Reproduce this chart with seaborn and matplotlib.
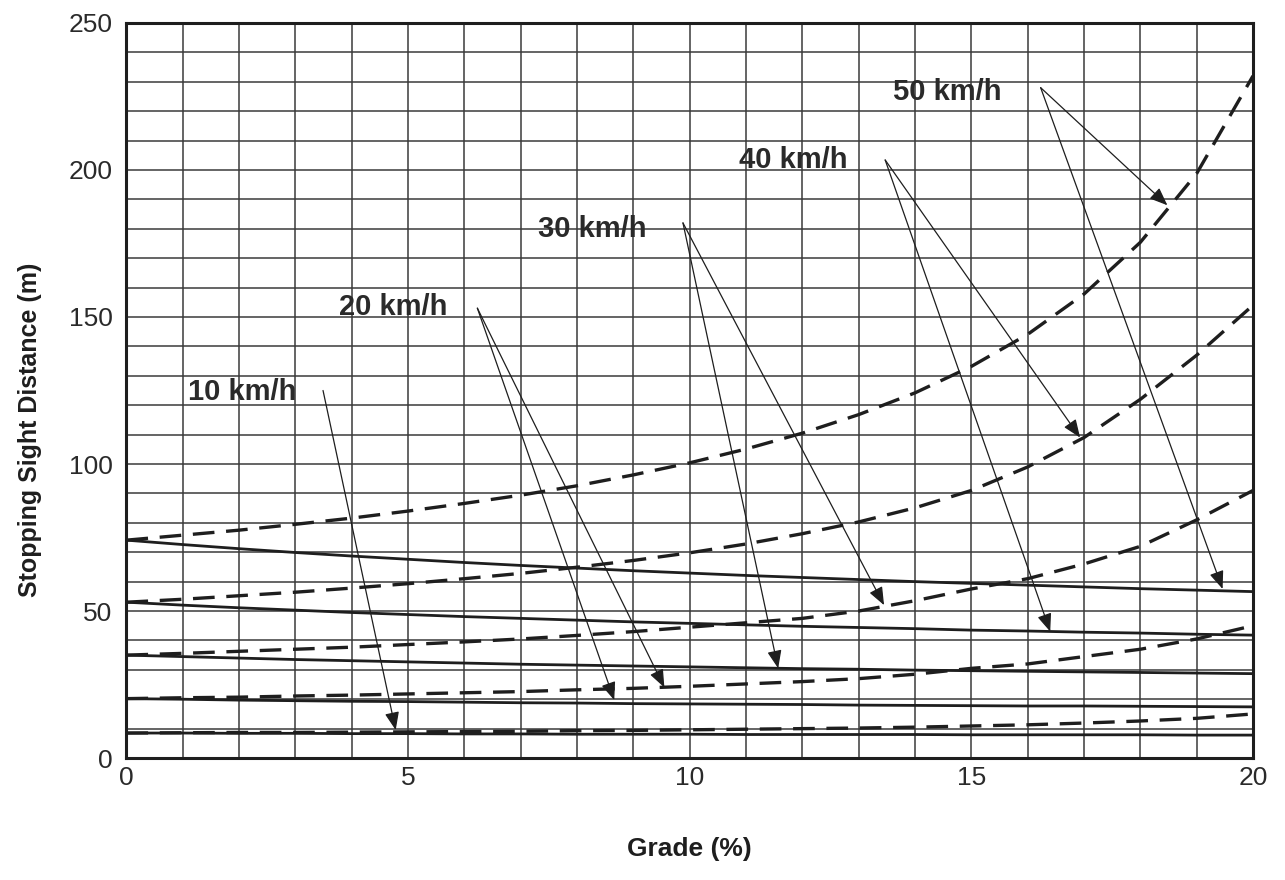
import pandas as pd
import seaborn as sns
import matplotlib
matplotlib.use('Agg')
import matplotlib.pyplot as plt

# Grade (%) and stopping sight distance (m)
grade = list(range(21))

# upgrade curves (solid)
up_10 = [8.5, 8.5, 8.4, 8.4, 8.3, 8.3, 8.2, 8.2, 8.1, 8.1, 8.1, 8.0, 8.0, 8.0, 8.0, 7.9, 7.9, 7.9, 7.9, 7.8, 7.8]
up_20 = [20.2, 20.0, 19.7, 19.5, 19.3, 19.2, 19.0, 18.8, 18.7, 18.5, 18.4, 18.3, 18.2, 18.0, 17.9, 17.8, 17.7, 17.7, 17.6, 17.5, 17.4]
up_30 = [35.0, 34.5, 34.0, 33.5, 33.1, 32.7, 32.3, 31.9, 31.6, 31.3, 31.0, 30.7, 30.4, 30.2, 29.9, 29.7, 29.5, 29.3, 29.1, 28.9, 28.7]
up_40 = [53.0, 52.0, 51.1, 50.3, 49.5, 48.8, 48.1, 47.5, 46.9, 46.3, 45.8, 45.3, 44.8, 44.4, 44.0, 43.5, 43.2, 42.8, 42.5, 42.1, 41.8]
up_50 = [74.1, 72.6, 71.2, 69.9, 68.7, 67.6, 66.5, 65.5, 64.6, 63.7, 62.9, 62.1, 61.4, 60.7, 60.0, 59.4, 58.8, 58.2, 57.6, 57.1, 56.6]

# downgrade curves (dashed)
down_10 = [8.5, 8.6, 8.7, 8.7, 8.8, 8.9, 9.0, 9.1, 9.3, 9.4, 9.6, 9.8, 10.0, 10.2, 10.5, 10.9, 11.3, 11.9, 12.6, 13.5, 15.0]
down_20 = [20.2, 20.5, 20.7, 21.1, 21.4, 21.8, 22.2, 22.6, 23.2, 23.7, 24.4, 25.2, 26.0, 27.0, 28.5, 30.5, 32.0, 34.5, 37.0, 40.5, 45.0]
down_30 = [35.0, 35.6, 36.3, 37.0, 37.7, 38.6, 39.5, 40.5, 41.7, 43.0, 44.5, 46.0, 47.5, 50.0, 53.5, 57.5, 61.0, 66.0, 72.0, 81.0, 91.0]
down_40 = [53.0, 54.0, 55.2, 56.4, 57.8, 59.3, 61.0, 62.8, 64.9, 67.2, 69.8, 72.8, 76.3, 80.3, 85.1, 91.0, 99.0, 109.0, 122.0, 137.0, 154.0]
down_50 = [74.1, 75.8, 77.5, 79.5, 81.6, 84.0, 86.6, 89.4, 92.6, 96.3, 100.4, 105.1, 110.5, 116.8, 124.2, 133.2, 144.1, 157.8, 175.4, 198.8, 232.0]

speeds = ['10 km/h', '20 km/h', '30 km/h', '40 km/h', '50 km/h']
up_curves = [up_10, up_20, up_30, up_40, up_50]
down_curves = [down_10, down_20, down_30, down_40, down_50]

# label anchor (left, baseline) and arrow tips, in data units
label_xy = [(1.09, 121.8), (3.78, 150.7), (7.31, 177.3), (10.88, 200.7), (13.6, 223.8)]
arrow_start = [(3.49, 125), (6.23, 153), (9.88, 182), (13.47, 203.4), (16.23, 228)]
arrow_tips = [[(4.78, 9.5)],
              [(8.66, 19.7), (9.55, 24.0)],
              [(11.57, 30.5), (13.45, 52.0)],
              [(16.4, 43.0), (16.93, 109.0)],
              [(18.48, 188.0), (19.46, 57.5)]]

# long-form table for seaborn
frames = []
for sp, up, dn in zip(speeds, up_curves, down_curves):
    frames.append(pd.DataFrame({'grade': grade, 'dist': up, 'speed': sp, 'dir': 'up'}))
    frames.append(pd.DataFrame({'grade': grade, 'dist': dn, 'speed': sp, 'dir': 'down'}))
df = pd.concat(frames, ignore_index=True)

sns.set_theme(style='white')
plt.rcParams['font.family'] = ['Liberation Sans', 'DejaVu Sans']

fig = plt.figure(figsize=(12.85, 8.8), dpi=100)
ax = fig.add_axes([0.0984, 0.1386, 0.8767, 0.8353])

ink = '#1e1e1e'

sns.lineplot(data=df[df['dir'] == 'up'], x='grade', y='dist', units='speed',
             estimator=None, color=ink, lw=2.0, legend=False, ax=ax)
sns.lineplot(data=df[df['dir'] == 'down'], x='grade', y='dist', units='speed',
             estimator=None, color=ink, lw=2.4, legend=False, ax=ax,
             linestyle=(0, (6.5, 3.5)))

ax.set_xlim(0, 20)
ax.set_ylim(0, 250)
ax.set_xticks([0, 5, 10, 15, 20])
ax.set_yticks([0, 50, 100, 150, 200, 250])
ax.set_xticks(range(21), minor=True)
ax.set_yticks(range(0, 251, 10), minor=True)
ax.grid(which='both', color='#3a3a3a', lw=1.1)
ax.set_axisbelow(True)
ax.tick_params(which='both', length=0, labelsize=19, colors='#2a2a2a')
ax.tick_params(axis='x', pad=6)
ax.tick_params(axis='y', pad=10)
for s in ax.spines.values():
    s.set_color(ink)
    s.set_linewidth(2.2)

ax.set_xlabel('Grade (%)', fontsize=19, fontweight='bold', color=ink)
ax.set_ylabel('Stopping Sight Distance (m)', fontsize=18, fontweight='bold', color=ink)
ax.xaxis.set_label_coords(0.5, -0.107)
ax.yaxis.set_label_coords(-0.075, 0.446)

# speed labels with arrows
for sp, (lx, ly), st, tips in zip(speeds, label_xy, arrow_start, arrow_tips):
    ax.text(lx, ly, sp, fontsize=21, fontweight='bold', color='#2a2a2a',
            ha='left', va='baseline')
    for tip in tips:
        ax.annotate('', xy=tip, xytext=st,
                    arrowprops=dict(arrowstyle='-|>,head_length=0.55,head_width=0.22',
                                    color=ink, lw=0.9, mutation_scale=20,
                                    shrinkA=0, shrinkB=0))

plt.savefig('out.png', dpi=100)
